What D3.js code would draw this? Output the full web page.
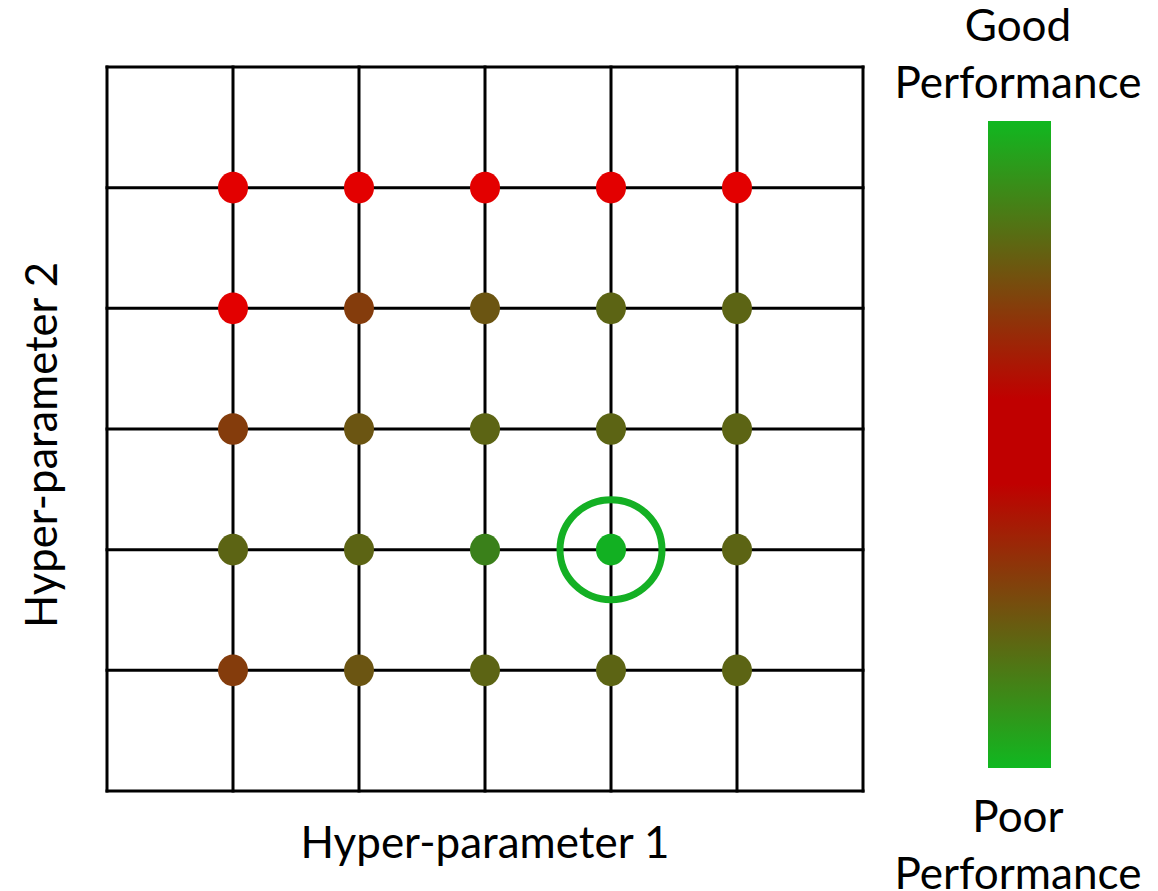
<!DOCTYPE html>
<html>
<head>
<meta charset="utf-8">
<script src="https://cdn.jsdelivr.net/npm/d3@7"></script>
<style>
  html, body { margin: 0; padding: 0; background: #ffffff; }
  svg { display: block; }
  text { font-family: Lato, "Open Sans", sans-serif; fill: #000; }
</style>
</head>
<body>
<svg id="chart" width="1158" height="891"></svg>
<script>
// Grid values tried for each hyper-parameter
const param1Values = [1, 2, 3, 4, 5];
const param2Values = [1, 2, 3, 4, 5];
// Grid line positions (cell boundaries, including the frame)
const gridLines = [0, 1, 2, 3, 4, 5, 6];

// Performance score (0 = poor, 1 = good) at each grid point, one row per hyper-parameter 2 value
const scoresP2_5 = [0.00, 0.00, 0.00, 0.00, 0.00];
const scoresP2_4 = [0.00, 0.35, 0.50, 0.60, 0.60];
const scoresP2_3 = [0.35, 0.50, 0.60, 0.60, 0.60];
const scoresP2_2 = [0.60, 0.60, 0.80, 1.00, 0.60];
const scoresP2_1 = [0.35, 0.50, 0.60, 0.60, 0.60];

// Point colour ramp: poor -> good
const scoreStops  = [0.00, 0.35, 0.50, 0.60, 0.80, 1.00];
const scoreColors = ["#e30000", "#843c0c", "#6b5512", "#5c6414", "#3a801a", "#12b022"];

// Colour bar gradient (top -> bottom)
const barOffsets = [0, 0.43, 0.56, 1];
const barColors  = ["#10b820", "#c00000", "#c00000", "#10b820"];

// Best configuration found
const bestPoint = { p1: 4, p2: 2 };

const xLabel = "Hyper-parameter 1";
const yLabel = "Hyper-parameter 2";
const topBarLabel = ["Good", "Performance"];
const bottomBarLabel = ["Poor", "Performance"];

const rows = [
  { p2: 5, scores: scoresP2_5 },
  { p2: 4, scores: scoresP2_4 },
  { p2: 3, scores: scoresP2_3 },
  { p2: 2, scores: scoresP2_2 },
  { p2: 1, scores: scoresP2_1 }
];
const points = rows.flatMap(r => param1Values.map((p1, i) => ({ p1, p2: r.p2, score: r.scores[i] })));

const svg = d3.select("#chart");

const x = d3.scaleLinear().domain([0, 6]).range([107, 863]);
const y = d3.scaleLinear().domain([0, 6]).range([791, 67]);
const color = d3.scaleLinear().domain(scoreStops).range(scoreColors);

// Grid lines
const grid = svg.append("g").attr("stroke", "#000").attr("stroke-width", 3);
grid.selectAll("line.v").data(gridLines).join("line")
  .attr("class", "v")
  .attr("x1", d => x(d)).attr("x2", d => x(d))
  .attr("y1", y(6) - 1.5).attr("y2", y(0) + 1.5);
grid.selectAll("line.h").data(gridLines).join("line")
  .attr("class", "h")
  .attr("y1", d => y(d)).attr("y2", d => y(d))
  .attr("x1", x(0) - 1.5).attr("x2", x(6) + 1.5);

// Evaluated grid points
svg.append("g").selectAll("ellipse").data(points).join("ellipse")
  .attr("cx", d => x(d.p1))
  .attr("cy", d => y(d.p2))
  .attr("rx", 15)
  .attr("ry", 15.8)
  .attr("fill", d => color(d.score));

// Ring around the best point
svg.append("ellipse")
  .attr("cx", x(bestPoint.p1))
  .attr("cy", y(bestPoint.p2))
  .attr("rx", 51)
  .attr("ry", 50)
  .attr("fill", "none")
  .attr("stroke", "#14b024")
  .attr("stroke-width", 7);

// Colour bar
const defs = svg.append("defs");
const grad = defs.append("linearGradient")
  .attr("id", "perfGrad")
  .attr("x1", 0).attr("y1", 0).attr("x2", 0).attr("y2", 1);
grad.selectAll("stop").data(barOffsets).join("stop")
  .attr("offset", d => d)
  .attr("stop-color", (d, i) => barColors[i]);

const barY = d3.scaleLinear().domain([0, 1]).range([121, 768]);
svg.append("rect")
  .attr("x", 988).attr("width", 63)
  .attr("y", barY(0)).attr("height", barY(1) - barY(0))
  .attr("fill", "url(#perfGrad)");

// Text helper: shrink/grow font so the label spans the target width
function fitText(sel, targetWidth, baseSize) {
  sel.attr("font-size", baseSize);
  const w = sel.node().getComputedTextLength();
  sel.attr("font-size", baseSize * targetWidth / w);
  return sel;
}

const labelSize = 44;
const barCx = 1018;

const good1 = svg.append("text").attr("x", barCx).attr("y", 41).attr("text-anchor", "middle").text(topBarLabel[0]);
const good2 = svg.append("text").attr("x", barCx).attr("y", 98).attr("text-anchor", "middle").text(topBarLabel[1]);
const poor1 = svg.append("text").attr("x", barCx).attr("y", 832).attr("text-anchor", "middle").text(bottomBarLabel[0]);
const poor2 = svg.append("text").attr("x", barCx).attr("y", 889).attr("text-anchor", "middle").text(bottomBarLabel[1]);

fitText(good2, 247, labelSize);
fitText(poor2, 247, labelSize);
const perfSize = +good2.attr("font-size");
good1.attr("font-size", perfSize);
poor1.attr("font-size", perfSize);

const xl = svg.append("text")
  .attr("x", x(3)).attr("y", 858)
  .attr("text-anchor", "middle")
  .text(xLabel);
fitText(xl, 369, labelSize);

const yl = svg.append("text")
  .attr("transform", `translate(57, ${445}) rotate(-90)`)
  .attr("text-anchor", "middle")
  .text(yLabel);
fitText(yl, 366, labelSize);
</script>
</body>
</html>
